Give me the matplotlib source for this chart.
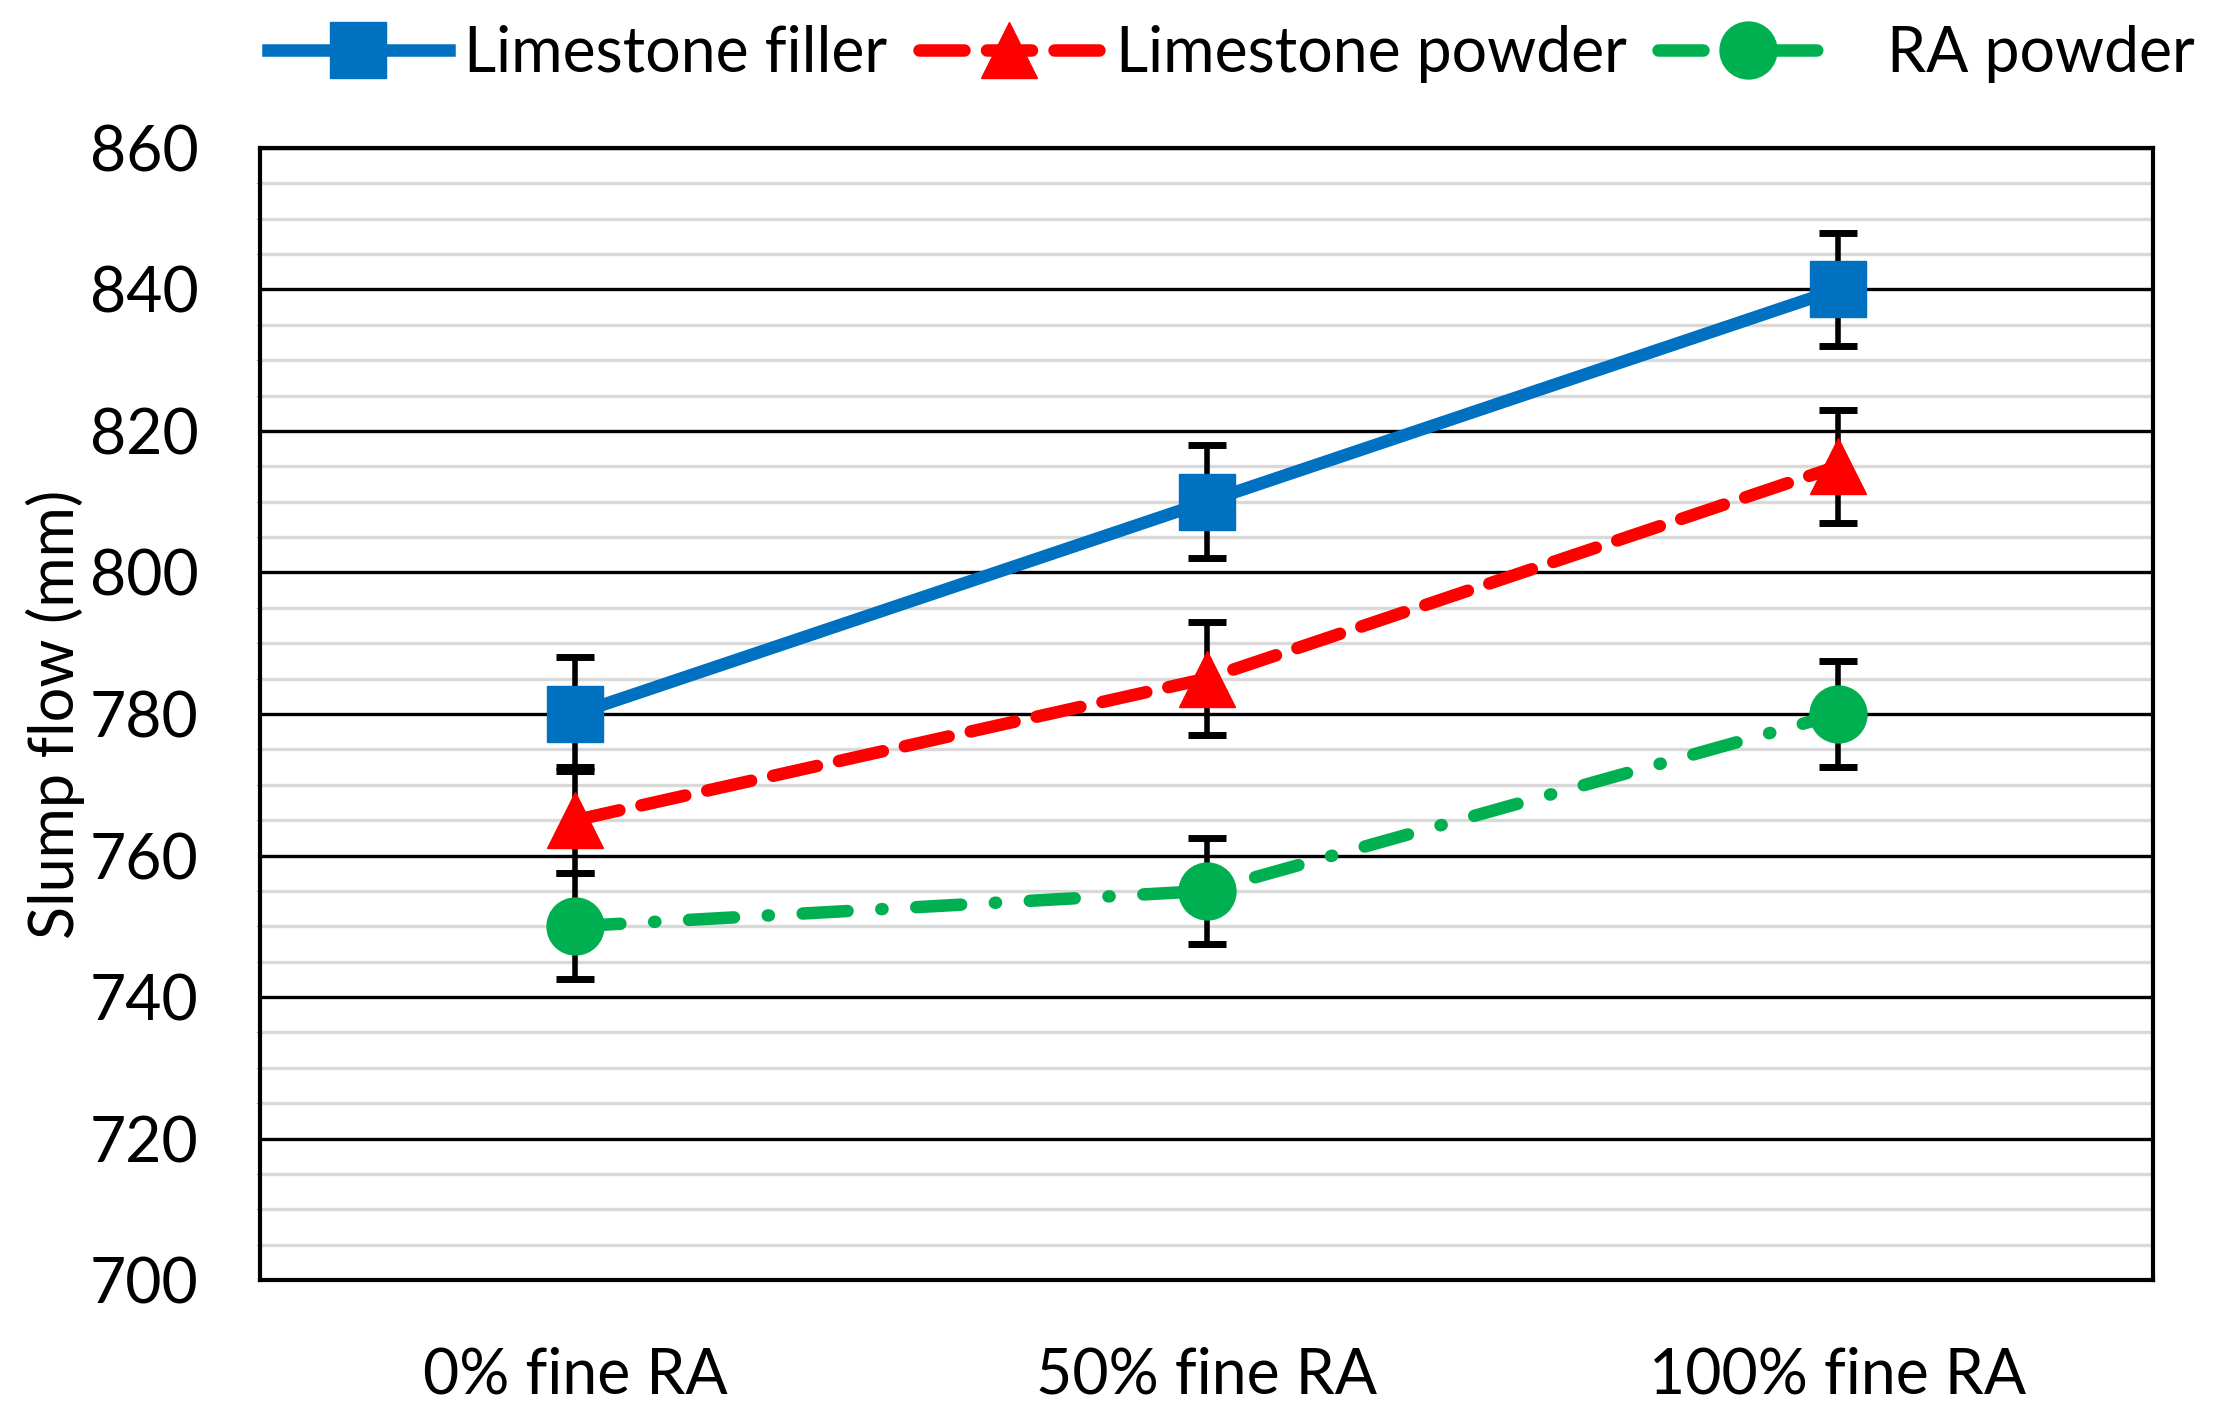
import matplotlib.pyplot as plt
import numpy as np
from matplotlib.ticker import MultipleLocator

plt.rcParams['font.family'] = ['Lato', 'DejaVu Sans']

categories = ["0% fine RA", "50% fine RA", "100% fine RA"]
filler = [780, 810, 840]
filler_err = [8, 8, 8]
powder = [765, 785, 815]
powder_err = [7.5, 8, 8]
ra_powder = [750, 755, 780]
ra_err = [7.5, 7.5, 7.5]

fig = plt.figure(figsize=(22.22, 14.28), dpi=100)
ax = fig.add_axes([0.117, 0.1036, 0.852, 0.7928])

x = np.arange(len(categories))

err_kw = dict(ecolor='black', elinewidth=4, capsize=14, capthick=5)

l1 = ax.errorbar(x, filler, yerr=filler_err, color='#0070C0', lw=9, marker='s',
                 markersize=41, label='Limestone filler', zorder=5, **err_kw)
l2 = ax.errorbar(x, powder, yerr=powder_err, color='#FF0000', lw=9, marker='^',
                 markersize=41, label='Limestone powder', zorder=4, **err_kw)
l2[0].set_dashes([3.6, 1.8])
l2[0].set_dash_capstyle('round')
l3 = ax.errorbar(x, ra_powder, yerr=ra_err, color='#00B050', lw=9, marker='o',
                 markersize=41, label='  RA powder', zorder=3, **err_kw)
l3[0].set_dashes([3.6, 2.7, 0.1, 2.7])
l3[0].set_dash_capstyle('round')

ax.set_xlim(-0.5, 2.5)
ax.set_ylim(700, 860)
ax.yaxis.set_major_locator(MultipleLocator(20))
ax.yaxis.set_minor_locator(MultipleLocator(5))
ax.grid(which='major', axis='y', color='black', lw=2.4, zorder=0)
ax.grid(which='minor', axis='y', color='#D9D9D9', lw=2.4, zorder=0)
ax.set_axisbelow(True)

ax.set_xticks(x)
ax.set_xticklabels(categories)
ax.tick_params(axis='both', length=0, labelsize=45)
ax.tick_params(axis='y', pad=44)
ax.tick_params(axis='x', pad=48)
for s in ax.spines.values():
    s.set_linewidth(3)
    s.set_color('black')

ax.set_ylabel('Slump flow (mm)', fontsize=44, labelpad=4)

fig.legend(handles=[l1[0], l2[0], l3[0]], labels=[l1.get_label(), l2.get_label(), l3.get_label()],
           loc='upper center', bbox_to_anchor=(0.554, 1.022),
           ncol=3, frameon=False, fontsize=45, handlelength=2.9, handletextpad=0.25,
           columnspacing=0.5)

fig.savefig('out.png', dpi=100)
